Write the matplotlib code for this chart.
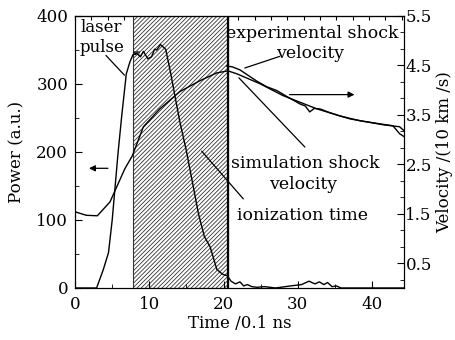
import numpy as np
import matplotlib.pyplot as plt
from matplotlib.ticker import MultipleLocator, AutoMinorLocator

plt.rcParams['font.family'] = ['DejaVu Serif']
plt.rcParams['font.size'] = 12
plt.rcParams['hatch.linewidth'] = 0.6

# laser pulse power (a.u.) vs time (0.1 ns)
laser_t = [0, 2.9, 3.8, 4.5, 5.0, 5.4, 5.8, 6.3, 6.9, 7.4, 7.8, 8.3, 8.8, 9.2, 9.8, 10.3,
           10.7, 11.0, 11.5, 12.2, 12.8, 13.4, 14.1, 15.0, 15.9, 16.6, 17.4, 18.2, 19.1,
           19.9, 20.5, 21.0, 21.6, 22.2, 22.7, 23.2, 23.8, 24.5, 25.5, 27, 29, 30.5, 31.5,
           32.3, 32.9, 33.5, 34.0, 34.6, 35.2, 35.8, 37, 44.3]
laser_p = [0, 0, 27, 52, 100, 150, 200, 255, 315, 333, 343, 345, 340, 348, 337, 340,
           351, 350, 358, 351, 320, 285, 245, 201, 150, 110, 76, 60, 27,
           20, 18, 10, 6, 9, 3, 5, 2, 1, 2, 0, 3, 5, 10,
           6, 9, 5, 8, 2, 3, 0, 0, 0]

# simulated shock velocity (10 km/s)
sim_t = [0, 1.5, 3, 4.7, 6.7, 7.7, 9.2, 11.4, 14.1, 16.8, 19.1, 20.6, 21.8, 24.9, 28,
         32.6, 37, 41.5, 43.7, 44.3]
sim_v = [1.54, 1.47, 1.46, 1.74, 2.41, 2.67, 3.26, 3.62, 3.97, 4.19, 4.35, 4.39, 4.33,
         4.13, 3.89, 3.62, 3.42, 3.30, 3.26, 3.18]

# experimental shock velocity (10 km/s)
exp_t = [20.4, 21.2, 22.2, 23.6, 24.5, 25.8, 27.2, 28.2, 29, 30.3, 31.0, 31.6, 32.2, 33,
         34.2, 35.6, 37, 38.4, 41, 42.8, 43.7, 44.3]
exp_v = [4.49, 4.47, 4.41, 4.27, 4.18, 4.07, 3.99, 3.90, 3.83, 3.72, 3.68, 3.56, 3.63,
         3.62, 3.55, 3.48, 3.43, 3.38, 3.32, 3.28, 3.12, 3.06]

ion_start, ion_end = 7.8, 20.6

fig = plt.figure(figsize=(4.55, 3.4), dpi=100)
ax = fig.add_axes([0.165, 0.153, 0.723, 0.8])
ax2 = ax.twinx()

ax.axvspan(ion_start, ion_end, facecolor='white', edgecolor='#333333', hatch='////////', lw=0.8)
ax.axvline(ion_end, color='black', lw=1.6)
ax.plot(laser_t, laser_p, c='black', lw=1.0)
ax2.plot(sim_t, sim_v, c='black', lw=1.0)
ax2.plot(exp_t, exp_v, c='black', lw=1.0)

ax.set_xlim(0, 44.3)
ax.set_ylim(0, 400)
ax2.set_ylim(0, 5.5)

ax.xaxis.set_major_locator(MultipleLocator(10))
ax.xaxis.set_minor_locator(MultipleLocator(5))
ax.yaxis.set_major_locator(MultipleLocator(100))
ax.yaxis.set_minor_locator(MultipleLocator(50))
ax2.set_yticks([0.5, 1.5, 2.5, 3.5, 4.5, 5.5])
ax2.yaxis.set_minor_locator(AutoMinorLocator(3))
ax.tick_params(which='both', direction='in')
ax.tick_params(axis='x', pad=6)
ax.tick_params(axis='y', pad=5)
ax.tick_params(which='major', length=5)
ax.tick_params(which='minor', length=3)
ax2.tick_params(which='both', direction='in', pad=1)
ax2.tick_params(which='major', length=5)
ax2.tick_params(which='minor', length=3)

top = ax.secondary_xaxis('top')
top.xaxis.set_major_locator(MultipleLocator(2.2))
top.tick_params(direction='in', length=3, labeltop=False)

ax.set_xlabel('Time /0.1 ns', labelpad=1)
ax.set_ylabel('Power (a.u.)', labelpad=8)
ax2.set_ylabel('Velocity /(10 km /s)', labelpad=3)

ax.text(3.6, 383, 'laser', ha='center', va='center')
ax.text(3.6, 354, 'pulse', ha='center', va='center')
ax.text(8.3, 345, 'se', ha='center', va='center', fontsize=5, fontweight='bold')
ax.annotate('', xy=(6.9, 310), xytext=(3.9, 345),
            arrowprops=dict(arrowstyle='-', color='black', lw=0.9))
ax.annotate('', xy=(1.5, 176), xytext=(4.8, 176),
            arrowprops=dict(arrowstyle='-|>', color='black', lw=0.9, mutation_scale=9))

ax2.text(31.9, 5.14, 'experimental shock', ha='center', va='center', fontsize=12.5)
ax2.text(31.6, 4.74, 'velocity', ha='center', va='center', fontsize=12.5)
ax2.text(31.0, 2.51, 'simulation shock', ha='center', va='center', fontsize=12.5)
ax2.text(30.7, 2.10, 'velocity', ha='center', va='center', fontsize=12.5)
ax2.text(30.6, 1.46, 'ionization time', ha='center', va='center', fontsize=12.5)
ax2.annotate('', xy=(22.5, 4.43), xytext=(27.9, 4.70),
             arrowprops=dict(arrowstyle='-', color='black', lw=0.9))
ax2.annotate('', xy=(21.8, 4.29), xytext=(31.2, 2.81),
             arrowprops=dict(arrowstyle='-', color='black', lw=0.9))
ax2.annotate('', xy=(16.8, 2.81), xytext=(22.9, 1.76),
             arrowprops=dict(arrowstyle='-', color='black', lw=0.9))
ax2.annotate('', xy=(38.0, 3.91), xytext=(28.5, 3.91),
             arrowprops=dict(arrowstyle='-|>', color='black', lw=0.9, mutation_scale=9))

fig.savefig('out.png', dpi=100)
